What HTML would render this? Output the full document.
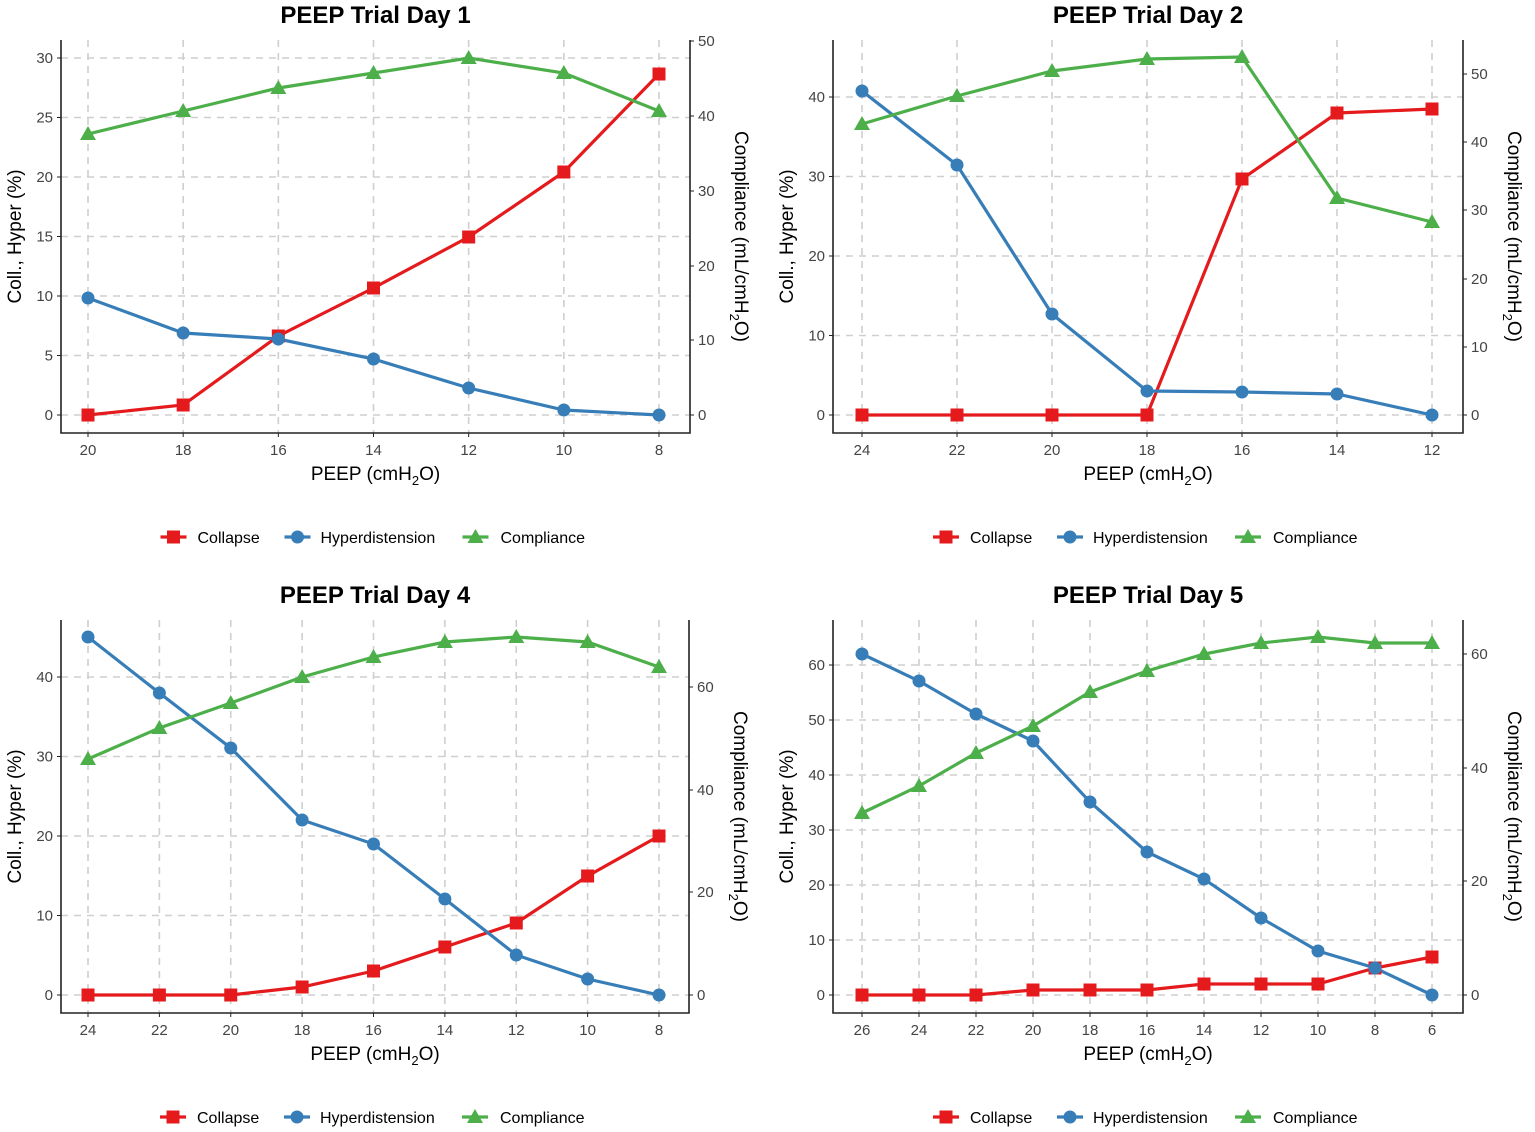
<!DOCTYPE html>
<html><head><meta charset="utf-8">
<style>
html,body{margin:0;padding:0;background:#fff;}
svg{display:block;font-family:"Liberation Sans",sans-serif;}
</style></head>
<body>
<svg id="s" width="1535" height="1132" viewBox="0 0 1535 1132" xmlns="http://www.w3.org/2000/svg"></svg>
<script>
const S=document.getElementById('s');let h='';
const R='#e41a1c',B='#377eb8',G='#4daf4a';
function panel(p){
 const {title,L,Rx,top,bot,xs,xl,ly,lt,ry,rt,c,hy,cp,oy}=p;
 xs.forEach(x=>h+=`<line x1="${x}" y1="${top}" x2="${x}" y2="${bot}" stroke="#cfcfcf" stroke-width="1.6" stroke-dasharray="7,6"/>`);
 ly.forEach(y=>h+=`<line x1="${L}" y1="${y}" x2="${Rx}" y2="${y}" stroke="#cfcfcf" stroke-width="1.6" stroke-dasharray="7,6"/>`);
 h+=`<path d="M${L} ${top}V${bot}H${Rx}V${top}" fill="none" stroke="#222" stroke-width="1.6"/>`;
 xs.forEach((x,i)=>{h+=`<line x1="${x}" y1="${bot}" x2="${x}" y2="${bot+4}" stroke="#222"/><text x="${x}" y="${bot+22}" font-size="15" fill="#444" text-anchor="middle">${xl[i]}</text>`;});
 ly.forEach((y,i)=>{h+=`<line x1="${L-4}" y1="${y}" x2="${L}" y2="${y}" stroke="#222"/><text x="${L-8}" y="${y+5}" font-size="15" fill="#444" text-anchor="end">${lt[i]}</text>`;});
 ry.forEach((y,i)=>{h+=`<line x1="${Rx}" y1="${y}" x2="${Rx+4}" y2="${y}" stroke="#222"/><text x="${Rx+8}" y="${y+5}" font-size="15" fill="#444">${rt[i]}</text>`;});
 const cx=(L+Rx)/2;
 h+=`<text x="${cx}" y="${oy+23}" font-size="24" font-weight="bold" text-anchor="middle">${title}</text>`;
 h+=`<text x="${cx}" y="${oy+480}" font-size="19" text-anchor="middle">PEEP (cmH<tspan font-size="13" dy="5">2</tspan><tspan dy="-5">O)</tspan></text>`;
 h+=`<text transform="translate(${L-40},${(top+bot)/2}) rotate(-90)" font-size="19" text-anchor="middle">Coll., Hyper (%)</text>`;
 h+=`<text transform="translate(${Rx+45},${(top+bot)/2}) rotate(90)" font-size="19" text-anchor="middle">Compliance (mL/cmH<tspan font-size="13" dy="5">2</tspan><tspan dy="-5">O)</tspan></text>`;
 const line=(ys,col)=>h+=`<polyline points="${ys.map((y,i)=>xs[i]+','+y).join(' ')}" fill="none" stroke="${col}" stroke-width="3.2"/>`;
 line(c,R);line(hy,B);line(cp,G);
 c.forEach((y,i)=>h+=`<rect x="${xs[i]-6.5}" y="${y-6.5}" width="13" height="13" fill="${R}"/>`);
 hy.forEach((y,i)=>h+=`<circle cx="${xs[i]}" cy="${y}" r="6.5" fill="${B}"/>`);
 cp.forEach((y,i)=>h+=`<path d="M${xs[i]} ${y-8}L${xs[i]+8} ${y+6}L${xs[i]-8} ${y+6}Z" fill="${G}"/>`);
 const ly2=oy+537, lx=cx-215;
 h+=`<line x1="${lx}" y1="${ly2}" x2="${lx+26}" y2="${ly2}" stroke="${R}" stroke-width="3.2"/><rect x="${lx+6.5}" y="${ly2-6.5}" width="13" height="13" fill="${R}"/><text x="${lx+37}" y="${ly2+6}" font-size="16">Collapse</text>`;
 h+=`<line x1="${lx+124}" y1="${ly2}" x2="${lx+150}" y2="${ly2}" stroke="${B}" stroke-width="3.2"/><circle cx="${lx+137}" cy="${ly2}" r="6.5" fill="${B}"/><text x="${lx+160}" y="${ly2+6}" font-size="16">Hyperdistension</text>`;
 h+=`<line x1="${lx+302}" y1="${ly2}" x2="${lx+328}" y2="${ly2}" stroke="${G}" stroke-width="3.2"/><path d="M${lx+315} ${ly2-8}L${lx+323} ${ly2+6}L${lx+307} ${ly2+6}Z" fill="${G}"/><text x="${lx+340}" y="${ly2+6}" font-size="16">Compliance</text>`;
}
function xsr(a,b,n){const r=[];for(let i=0;i<n;i++)r.push(a+(b-a)*i/(n-1));return r;}
panel({title:'PEEP Trial Day 1',L:61,Rx:690,top:40,bot:433,oy:0,xs:xsr(88,659,7),xl:[20,18,16,14,12,10,8],
 ly:[415,355.5,296,236.5,177,117.5,58],lt:[0,5,10,15,20,25,30],ry:[415,340,266,191,116,41],rt:[0,10,20,30,40,50],
 c:[415,405,336,288,237,172,74],hy:[298,333,339,359,388,410,415],cp:[134,111,88,73,58,73,111]});
panel({title:'PEEP Trial Day 2',L:833,Rx:1463,top:40,bot:433,oy:0,xs:xsr(862,1432,7),xl:[24,22,20,18,16,14,12],
 ly:[415,335.5,256,176.5,97],lt:[0,10,20,30,40],ry:[415,347,279,210,142,74],rt:[0,10,20,30,40,50],
 c:[415,415,415,415,179,113,109],hy:[91,165,314,391,392,394,415],cp:[124,96,71,59,57,198,222]});
panel({title:'PEEP Trial Day 4',L:61,Rx:689,top:620,bot:1013,oy:580,xs:xsr(88,659,9),xl:[24,22,20,18,16,14,12,10,8],
 ly:[995,915.5,836,756.5,677],lt:[0,10,20,30,40],ry:[995,892,790,687],rt:[0,20,40,60],
 c:[995,995,995,987,971,947,923,876,836],hy:[637,693,748,820,844,899,955,979,995],cp:[759,728,703,677,657,642,637,642,667]});
panel({title:'PEEP Trial Day 5',L:833,Rx:1463,top:620,bot:1013,oy:580,xs:xsr(862,1432,11),xl:[26,24,22,20,18,16,14,12,10,8,6],
 ly:[995,940,885,830,775,720,665],lt:[0,10,20,30,40,50,60],ry:[995,881,768,654],rt:[0,20,40,60],
 c:[995,995,995,990,990,990,984,984,984,968,957],hy:[654,681,714,741,802,852,879,918,951,968,995],cp:[813,786,753,726,692,671,654,643,637,643,643]});
S.innerHTML=h;
</script>
</body></html>
